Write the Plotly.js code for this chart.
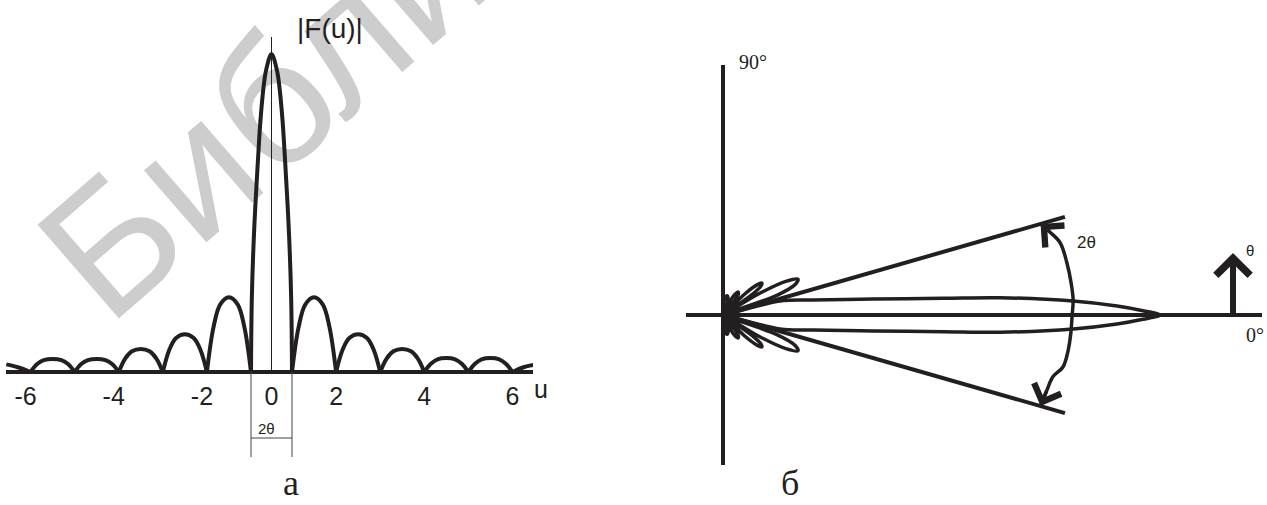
<!DOCTYPE html>
<html>
<head>
<meta charset="utf-8">
<script src="https://cdn.plot.ly/plotly-3.0.1.min.js"></script>
<style>html,body{margin:0;padding:0;background:#fff;}</style>
</head>
<body>
<div id="chart" style="width:1267px;height:505px"></div>
<script>
// ---------- Panel а : |F(u)| ----------
const uMain = [-1, -0.96, -0.85, -0.63, -0.54, -0.38, -0.26, 0, 0.26, 0.38, 0.54, 0.63, 0.85, 0.96, 1];
const fMain = [0, 0.23, 0.44, 0.70, 0.79, 0.90, 0.95, 1, 0.95, 0.90, 0.79, 0.70, 0.44, 0.23, 0];

const uLeft = [-6.55, -6.29, -6, null,
  -6, -5.85, -5.7, -5.5, -5.3, -5.15, -5, null,
  -5, -4.85, -4.7, -4.5, -4.3, -4.15, -4, null,
  -4, -3.85, -3.7, -3.5, -3.3, -3.15, -3, null,
  -3, -2.85, -2.7, -2.5, -2.3, -2.15, -2, null,
  -2, -1.85, -1.7, -1.5, -1.3, -1.15, -1];
const fLeft = [0.024, 0.015, 0, null,
  0, 0.025, 0.037, 0.041, 0.037, 0.025, 0, null,
  0, 0.025, 0.037, 0.041, 0.037, 0.025, 0, null,
  0, 0.043, 0.065, 0.072, 0.065, 0.043, 0, null,
  0, 0.071, 0.107, 0.119, 0.107, 0.071, 0, null,
  0, 0.141, 0.212, 0.235, 0.212, 0.141, 0];

const uRight = [1, 1.15, 1.3, 1.5, 1.7, 1.85, 2, null,
  2, 2.15, 2.3, 2.5, 2.7, 2.85, 3, null,
  3, 3.15, 3.3, 3.5, 3.7, 3.85, 4, null,
  4, 4.15, 4.3, 4.5, 4.7, 4.85, 5, null,
  5, 5.15, 5.3, 5.5, 5.7, 5.85, 6, null,
  6, 6.25, 6.47];
const fRight = [0, 0.141, 0.212, 0.235, 0.212, 0.141, 0, null,
  0, 0.071, 0.107, 0.119, 0.107, 0.071, 0, null,
  0, 0.043, 0.065, 0.072, 0.065, 0.043, 0, null,
  0, 0.026, 0.040, 0.044, 0.040, 0.026, 0, null,
  0, 0.026, 0.040, 0.044, 0.040, 0.026, 0, null,
  0, 0.015, 0.022];

const tickValsLeft = [-6, -4, -2];
const tickTextLeft = ['-6', '-4', '-2'];
const tickValsCenter = [0];
const tickTextCenter = ['0'];
const tickValsRight = [2, 4, 6];
const tickTextRight = ['2', '4', '6'];

// ---------- Panel б : polar pattern (angle in degrees, relative radius) ----------
const thetaPattern = [-90, -84, -78, -71, -66, -63, -60, -57, -54, -51, -47, -44, -41.5, -39.5, -37.5, -35, -32,
  -30.5, -28, -25.5, -23, -20, -16.5, -13.8, -9.5, -6.1, -4.34, -3.57, -2.29, -1.31, -0.59, 0,
  0.59, 1.31, 2.29, 3.57, 4.34, 6.1, 9.5, 13.8, 16.5, 20, 23, 25.5, 28, 30.5, 32,
  35, 37.5, 39.5, 41.5, 44, 47, 51, 54, 57, 60, 63, 66, 71, 78, 84, 90];
const rPattern = [0, 0.035, 0.045, 0.035, 0, 0.035, 0.055, 0.063, 0.06, 0.045, 0, 0.07, 0.105, 0.115, 0.11, 0.08, 0,
  0.1, 0.165, 0.19, 0.18, 0.13, 0, 0.134, 0.209, 0.345, 0.505, 0.635, 0.802, 0.902, 0.961, 1,
  0.961, 0.902, 0.802, 0.635, 0.505, 0.345, 0.209, 0.134, 0, 0.13, 0.18, 0.19, 0.165, 0.1, 0,
  0.08, 0.11, 0.115, 0.105, 0.07, 0, 0.045, 0.06, 0.063, 0.055, 0.035, 0, 0.035, 0.045, 0.035, 0];

const beamEdgeDeg = 16;      // direction of the 2θ boundary lines
const beamEdgeLen = 0.814;   // their length (relative radius)
const thetaArc = [16, 14.2, 12.1, 8.6, 5.25, 2.45, 0, -2.96, -5.8, -8.7, -10.6, -13, -16];
const rArc = [0.756, 0.772, 0.789, 0.796, 0.800, 0.802, 0.799, 0.797, 0.794, 0.787, 0.768, 0.761, 0.756];

// ---------- drawing ----------
const W = 1267, H = 505;
const ink = '#231f20';
const deg = Math.PI / 180;
const toX = (t, r) => t.map((a, i) => r[i] * Math.cos(a * deg));
const toY = (t, r) => t.map((a, i) => r[i] * Math.sin(a * deg));

const patX = toX(thetaPattern, rPattern), patY = toY(thetaPattern, rPattern);
const arcX = toX(thetaArc, rArc), arcY = toY(thetaArc, rArc);
const edgeX = [beamEdgeLen * Math.cos(beamEdgeDeg * deg), 0, beamEdgeLen * Math.cos(beamEdgeDeg * deg)];
const edgeY = [beamEdgeLen * Math.sin(beamEdgeDeg * deg), 0, -beamEdgeLen * Math.sin(beamEdgeDeg * deg)];

const lineStyle = {color: ink, width: 4, shape: 'spline', smoothing: 1};
const traces = [
  {x: uLeft, y: fLeft, xaxis: 'x', yaxis: 'y', mode: 'lines', line: lineStyle, connectgaps: false, hoverinfo: 'skip'},
  {x: uMain, y: fMain, xaxis: 'x2', yaxis: 'y', mode: 'lines', line: lineStyle, hoverinfo: 'skip'},
  {x: uRight, y: fRight, xaxis: 'x3', yaxis: 'y', mode: 'lines', line: lineStyle, connectgaps: false, hoverinfo: 'skip'},
  {x: patX, y: patY, xaxis: 'x4', yaxis: 'y4', mode: 'lines', line: {color: ink, width: 3.5, shape: 'spline', smoothing: 1}, hoverinfo: 'skip'},
  {x: edgeX, y: edgeY, xaxis: 'x4', yaxis: 'y4', mode: 'lines', line: {color: ink, width: 4}, hoverinfo: 'skip'},
  {x: arcX, y: arcY, xaxis: 'x4', yaxis: 'y4', mode: 'lines', line: {color: ink, width: 3.5, shape: 'spline'}, hoverinfo: 'skip'}
];

const k1 = 44.09, k2 = 20.5, kF = 318, kR = 437;
const tickFont = {family: 'Liberation Sans, Arial, sans-serif', size: 25, color: ink};
const xCommon = {showgrid: false, zeroline: false, showline: false, ticks: '', tickfont: tickFont, anchor: 'y', fixedrange: true, ticklabelstandoff: -1};

const px = v => v / W, py = v => 1 - v / H;
const sans = 'Liberation Sans, Arial, sans-serif';
const serif = 'Liberation Serif, Times New Roman, serif';
function note(text, x, y, size, family, yanchor) {
  return {text: text, xref: 'paper', yref: 'paper', x: px(x), y: py(y), xanchor: 'center', yanchor: yanchor || 'middle',
    showarrow: false, font: {family: family, size: size, color: ink}};
}
function headAt(i, j) {
  return {xref: 'x4', yref: 'y4', axref: 'x4', ayref: 'y4', x: arcX[i], y: arcY[i], ax: arcX[j], ay: arcY[j],
    text: '', showarrow: true, arrowhead: 4, arrowwidth: 3.5, arrowsize: 1.6, arrowcolor: ink, standoff: 0};
}

const layout = {
  width: W, height: H, margin: {l: 0, r: 0, t: 0, b: 0},
  paper_bgcolor: '#ffffff', plot_bgcolor: 'rgba(0,0,0,0)', showlegend: false,
  xaxis: Object.assign({}, xCommon, {domain: [px(6), px(257)], range: [-6.5568, -6.5568 + 251 / k1],
    tickvals: tickValsLeft, ticktext: tickTextLeft, ticklabelshift: -5}),
  xaxis2: Object.assign({}, xCommon, {domain: [px(245), px(298)], range: [-1 - 6 / k2, 1 + 6 / k2],
    tickvals: tickValsCenter, ticktext: tickTextCenter}),
  xaxis3: Object.assign({}, xCommon, {domain: [px(286), px(533)], range: [1 - 6 / k1, 1 - 6 / k1 + 247 / k1],
    tickvals: tickValsRight, ticktext: tickTextRight}),
  yaxis: {domain: [py(380), py(25)], range: [-8 / kF, 347 / kF], anchor: 'x', showticklabels: false, showgrid: false,
    ticks: '', showline: false, zeroline: true, zerolinewidth: 4, zerolinecolor: ink, fixedrange: true},
  xaxis4: {domain: [px(560), 1], range: [-163 / kR, 544 / kR], anchor: 'y4', visible: false, fixedrange: true},
  yaxis4: {domain: [0, 1], range: [-190 / kR, 315 / kR], anchor: 'x4', visible: false, fixedrange: true},
  shapes: [
    // watermark
    {type: 'rect', xref: 'paper', yref: 'paper', x0: px(420), x1: px(430), y0: py(-48), y1: py(-58),
      line: {width: 0, color: 'rgba(0,0,0,0)'}, fillcolor: 'rgba(0,0,0,0)', layer: 'below',
      label: {text: 'Библиотека', textangle: -41, textposition: 'middle center',
        font: {family: sans, size: 180, color: '#cdcdcd'}}},
    // thin centre line and 2θ bracket (panel а)
    {type: 'line', xref: 'x2', yref: 'y', x0: 0, x1: 0, y0: 0, y1: 335 / kF, line: {color: ink, width: 1}},
    {type: 'line', xref: 'x2', yref: 'paper', x0: -1, x1: -1, y0: py(372), y1: py(457), line: {color: '#444', width: 1}},
    {type: 'line', xref: 'x2', yref: 'paper', x0: 1, x1: 1, y0: py(372), y1: py(457), line: {color: '#444', width: 1}},
    {type: 'line', xref: 'x2', yref: 'paper', x0: -1, x1: 1, y0: py(438), y1: py(438), line: {color: '#444', width: 1}},
    // axes of panel б
    {type: 'line', xref: 'x4', yref: 'y4', x0: 0, x1: 0, y0: -150 / kR, y1: 250 / kR, line: {color: ink, width: 4}},
    {type: 'line', xref: 'x4', yref: 'y4', x0: -37 / kR, x1: 539 / kR, y0: 0, y1: 0, line: {color: ink, width: 4}}
  ],
  annotations: [
    note('|F(u)|', 330, 28, 28, sans),
    note('u', 541, 389, 25, sans),
    note('2θ', 266, 428, 15, sans),
    note('а', 291, 505, 36, serif, 'bottom'),
    note('б', 790, 505, 36, serif, 'bottom'),
    note('90°', 753, 62, 20, serif),
    note('2θ', 1086, 242, 17, sans),
    note('θ', 1250, 250, 15, sans),
    note('0°', 1255, 335, 20, serif),
    headAt(0, 1),
    headAt(thetaArc.length - 1, thetaArc.length - 2),
    {xref: 'x4', yref: 'y4', axref: 'x4', ayref: 'y4', x: 510 / kR, y: 62 / kR, ax: 510 / kR, ay: 0,
      text: '', showarrow: true, arrowhead: 4, arrowwidth: 6, arrowsize: 1.1, arrowcolor: ink, standoff: 0}
  ]
};

Plotly.newPlot('chart', traces, layout, {staticPlot: true, displayModeBar: false});
</script>
</body>
</html>
